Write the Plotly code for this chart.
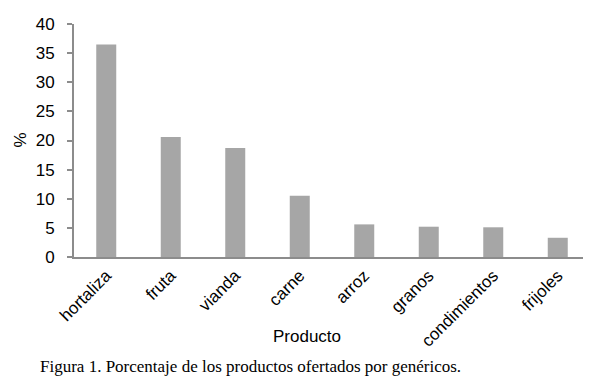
import plotly.graph_objects as go

categories = ["hortaliza", "fruta", "vianda", "carne", "arroz", "granos", "condimientos", "frijoles"]
values = [36.5, 20.6, 18.7, 10.5, 5.6, 5.2, 5.1, 3.3]
y_ticks = [0, 5, 10, 15, 20, 25, 30, 35, 40]

fig = go.Figure(go.Bar(x=categories, y=values, marker=dict(color="#a6a6a6", line=dict(width=0))))

font_sans = "Liberation Sans, Arial, sans-serif"
# page body has an 8px default margin; figure sized/offset to compensate
fig.update_layout(
    width=583, height=378,
    margin=dict(l=66, r=1, t=16, b=129),
    paper_bgcolor="white", plot_bgcolor="white",
    bargap=0.69,
    showlegend=False,
    font=dict(family=font_sans, size=17, color="black"),
    xaxis=dict(
        showline=True, linecolor="#8c8c8c", linewidth=2,
        showgrid=False, ticks="", tickangle=-45,
        tickfont=dict(size=17, color="black"),
    ),
    yaxis=dict(
        range=[0, 40], tickvals=y_ticks, showgrid=False, zeroline=False,
        showline=True, linecolor="#8c8c8c", linewidth=2,
        ticks="outside", ticklen=5, tickcolor="#8c8c8c", tickwidth=2,
        ticklabelstandoff=9,
        tickfont=dict(size=17, color="black"),
    ),
    annotations=[
        dict(text="%", xref="paper", yref="paper", x=(20 - 74) / 516, y=0.5, xanchor="center", yanchor="middle",
             showarrow=False, textangle=-90, font=dict(size=17, family=font_sans)),
        dict(text="Producto", xref="paper", yref="paper", x=(307 - 74) / 516, y=-(336 - 256.5) / 233,
             xanchor="center", yanchor="middle", showarrow=False, font=dict(size=17, family=font_sans)),
        dict(text="Figura 1. Porcentaje de los productos ofertados por genéricos.", xref="paper", yref="paper",
             x=(38 - 74) / 516, y=-(366 - 256.5) / 233, xanchor="left", yanchor="middle", showarrow=False,
             font=dict(size=17, family="Liberation Serif, Times New Roman, serif", color="black")),
    ],
)

fig.write_html("out.html")
